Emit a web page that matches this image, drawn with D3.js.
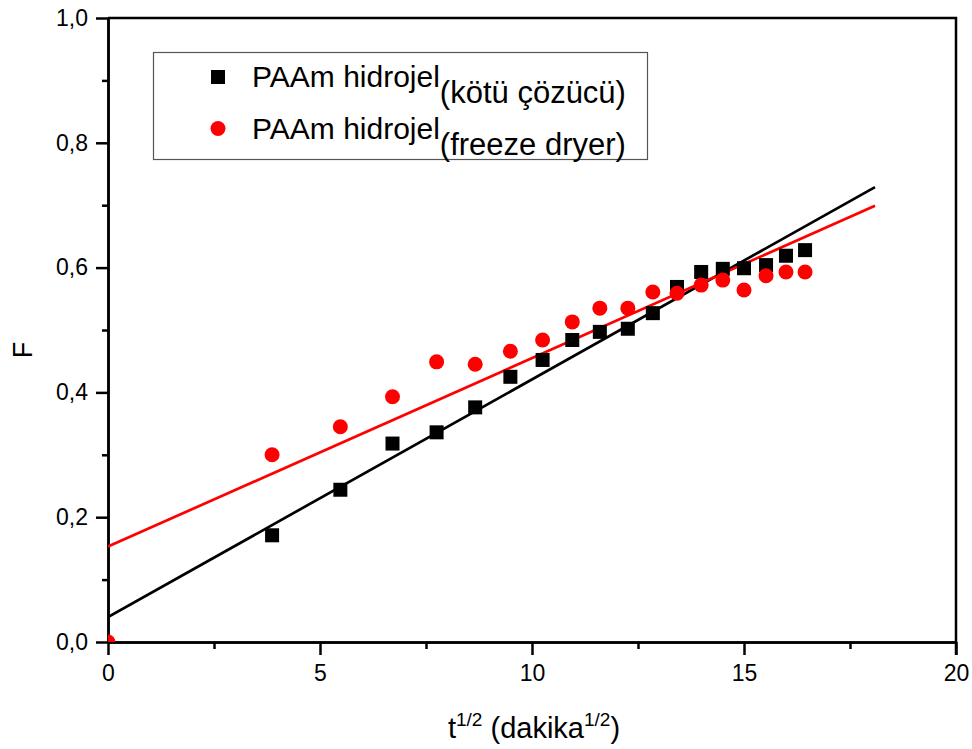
<!DOCTYPE html>
<html>
<head>
<meta charset="utf-8">
<script src="https://cdn.jsdelivr.net/npm/d3@7"></script>
<style>
  body { margin: 0; background: #fff; }
  text { font-family: Arial, "Liberation Sans", sans-serif; fill: #000; }
</style>
</head>
<body>
<svg id="chart" width="972" height="749"></svg>
<script>
// Data
var xBlack = [3.87, 5.48, 6.71, 7.75, 8.66, 9.49, 10.25, 10.95, 11.60, 12.26, 12.85, 13.42, 13.99, 14.50, 15.00, 15.52, 15.99, 16.44];
var yBlack = [0.171, 0.244, 0.318, 0.336, 0.376, 0.425, 0.452, 0.484, 0.497, 0.502, 0.527, 0.569, 0.593, 0.598, 0.599, 0.604, 0.619, 0.628];
var xRed = [0, 3.87, 5.48, 6.71, 7.75, 8.66, 9.49, 10.25, 10.95, 11.60, 12.26, 12.85, 13.42, 13.99, 14.50, 15.00, 15.52, 15.99, 16.44];
var yRed = [0, 0.300, 0.345, 0.393, 0.449, 0.445, 0.466, 0.484, 0.513, 0.535, 0.535, 0.561, 0.559, 0.572, 0.580, 0.564, 0.587, 0.593, 0.593];
var fitBlack = [[0, 0.040], [18.09, 0.729]];
var fitRed = [[0, 0.153], [18.09, 0.699]];
var xTicks = [0, 5, 10, 15, 20];
var xMinor = [2.5, 7.5, 12.5, 17.5];
var yTicks = [0, 0.2, 0.4, 0.6, 0.8, 1.0];
var yMinor = [0.1, 0.3, 0.5, 0.7, 0.9];
var legendLabels = ["PAAm hidrojel", "PAAm hidrojel"];
var legendSubs = ["(kötü çözücü)", "(freeze dryer)"];

var svg = d3.select("#chart");
var dim = { left: 108, right: 956, top: 18, bottom: 642 };
var colorBlack = "#000000";
var colorRed = "#ff0000";

var x = d3.scaleLinear().domain([0, 20]).range([dim.left, dim.right]);
var y = d3.scaleLinear().domain([0, 1]).range([dim.bottom, dim.top]);

svg.append("defs").append("clipPath").attr("id", "clip")
   .append("rect")
   .attr("x", dim.left).attr("y", dim.top)
   .attr("width", dim.right - dim.left).attr("height", dim.bottom - dim.top);

// Axes
var fmt = function(d) { return d.toFixed(1).replace(".", ","); };

var gx = svg.append("g")
  .attr("transform", "translate(0," + dim.bottom + ")")
  .call(d3.axisBottom(x).tickValues(xTicks).tickSize(13).tickSizeOuter(0).tickPadding(10).tickFormat(d3.format("d")));
var gxm = svg.append("g")
  .attr("transform", "translate(0," + dim.bottom + ")")
  .call(d3.axisBottom(x).tickValues(xMinor).tickSize(7).tickSizeOuter(0).tickFormat(""));
var gy = svg.append("g")
  .attr("transform", "translate(" + dim.left + ",0)")
  .call(d3.axisLeft(y).tickValues(yTicks).tickSize(12).tickSizeOuter(0).tickPadding(8).tickFormat(fmt));
var gym = svg.append("g")
  .attr("transform", "translate(" + dim.left + ",0)")
  .call(d3.axisLeft(y).tickValues(yMinor).tickSize(6).tickSizeOuter(0).tickFormat(""));

[gx, gxm, gy, gym].forEach(function(g) {
  g.selectAll("path, line").attr("stroke", "#000").attr("stroke-width", 2.5);
  g.selectAll("text").style("font-size", "23px").style("font-family", "Arial, 'Liberation Sans', sans-serif").attr("fill", "#000");
});

// top and right frame
svg.append("path")
   .attr("d", "M" + dim.left + "," + dim.top + "H" + dim.right + "V" + (dim.bottom + 13))
   .attr("fill", "none").attr("stroke", "#000").attr("stroke-width", 2.5);

// Fit lines
var line = d3.line().x(function(d) { return x(d[0]); }).y(function(d) { return y(d[1]); });
var plot = svg.append("g").attr("clip-path", "url(#clip)");
plot.append("path").datum(fitBlack).attr("d", line)
    .attr("fill", "none").attr("stroke", colorBlack).attr("stroke-width", 2.7);
plot.append("path").datum(fitRed).attr("d", line)
    .attr("fill", "none").attr("stroke", colorRed).attr("stroke-width", 2.7);

// Points
var sq = 14;
plot.selectAll("rect.pt")
    .data(d3.range(xBlack.length))
    .enter().append("rect")
    .attr("class", "pt")
    .attr("x", function(i) { return x(xBlack[i]) - sq / 2; })
    .attr("y", function(i) { return y(yBlack[i]) - sq / 2; })
    .attr("width", sq).attr("height", sq)
    .attr("fill", colorBlack);
plot.selectAll("circle.pt")
    .data(d3.range(xRed.length))
    .enter().append("circle")
    .attr("class", "pt")
    .attr("cx", function(i) { return x(xRed[i]); })
    .attr("cy", function(i) { return y(yRed[i]); })
    .attr("r", 7.5)
    .attr("fill", colorRed);

// Legend
svg.append("rect")
   .attr("x", 153.5).attr("y", 52.5).attr("width", 494).attr("height", 107)
   .attr("fill", "#fff").attr("stroke", "#555").attr("stroke-width", 1.2);
svg.append("rect").attr("x", 218 - 7).attr("y", 77 - 7).attr("width", 14).attr("height", 14).attr("fill", colorBlack);
svg.append("circle").attr("cx", 218).attr("cy", 128.5).attr("r", 7.5).attr("fill", colorRed);
legendLabels.forEach(function(lab, i) {
  var t = svg.append("text")
     .attr("x", 252).attr("y", 87 + i * 51.5)
     .style("font-size", "30px");
  t.append("tspan").text(lab);
  t.append("tspan").attr("dy", 16).style("font-size", "31px").text(legendSubs[i]);
});

// Axis titles
svg.append("text")
   .attr("transform", "translate(32,350) rotate(-90)")
   .attr("text-anchor", "middle")
   .style("font-size", "27px")
   .text("F");

var xt = svg.append("text")
   .attr("x", 534).attr("y", 738)
   .attr("text-anchor", "middle")
   .style("font-size", "29px");
xt.append("tspan").text("t");
xt.append("tspan").attr("dy", -12).style("font-size", "19px").text("1/2");
xt.append("tspan").attr("dy", 12).text(" (dakika");
xt.append("tspan").attr("dy", -12).style("font-size", "19px").text("1/2");
xt.append("tspan").attr("dy", 12).text(")");
</script>
</body>
</html>
